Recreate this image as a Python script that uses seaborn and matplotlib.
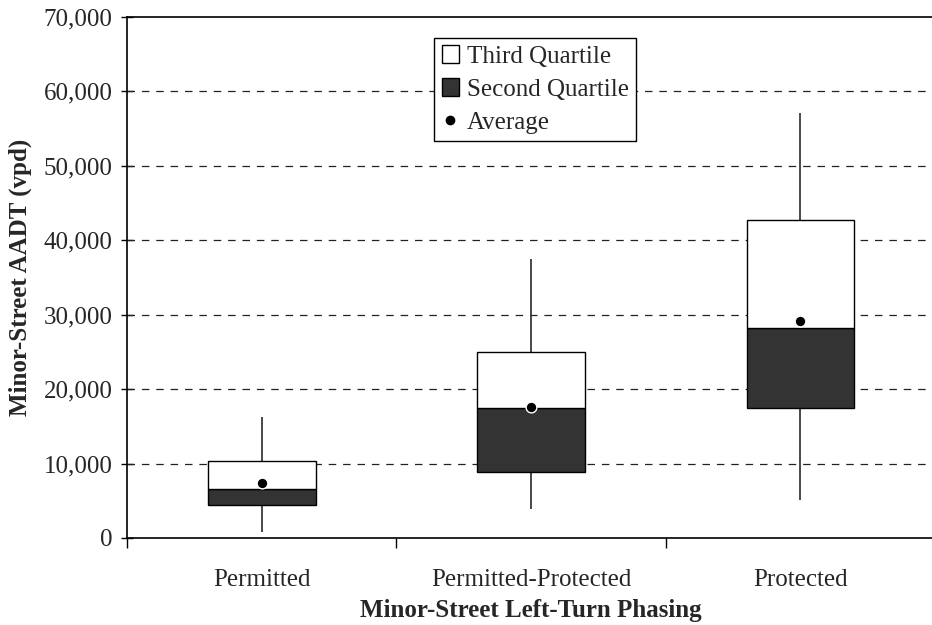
import matplotlib
matplotlib.use("Agg")
import matplotlib.pyplot as plt
from matplotlib.patches import Patch
from matplotlib.lines import Line2D
from matplotlib.ticker import FuncFormatter, FixedLocator
import seaborn as sns
import pandas as pd

# Minor-street AADT (vpd) by left-turn phasing
categories = ["Permitted", "Permitted-Protected", "Protected"]
whisker_low = [800, 3900, 5100]
first_quartile = [4400, 8900, 17500]
median = [6600, 17500, 28200]
third_quartile = [10400, 25000, 42700]
whisker_high = [16300, 37500, 57100]
average = [7400, 17600, 29100]

sns.set_theme(style="white")
plt.rcParams["font.family"] = ["Liberation Serif", "DejaVu Serif"]
plt.rcParams["font.size"] = 18

fig = plt.figure(figsize=(9.32, 6.25), dpi=100)
ax = fig.add_axes([0.1363, 0.1392, 0.8670, 0.8341])

pos = list(range(len(categories)))
width = 0.40
dark = "#333333"

# Whiskers behind the boxes
ax.vlines(pos, whisker_low, whisker_high, color="#3a3a3a", linewidth=1.3, zorder=2)

# Second quartile (Q1 -> median) and third quartile (median -> Q3)
q2_h = [m - q for m, q in zip(median, first_quartile)]
q3_h = [q - m for q, m in zip(third_quartile, median)]
ax.bar(pos, q2_h, bottom=first_quartile, width=width, color=dark,
       edgecolor="black", linewidth=1.0, zorder=3)
ax.bar(pos, q3_h, bottom=median, width=width, color="white",
       edgecolor="black", linewidth=1.0, zorder=3)

# Averages
df = pd.DataFrame({"x": pos, "avg": average})
sns.scatterplot(data=df, x="x", y="avg", ax=ax, color="black", s=60,
                edgecolor="white", linewidth=1.0, zorder=5, legend=False)

# Axes, grid and ticks
ax.set_xlim(-0.5, 2.5)
ax.set_ylim(0, 70000)
ax.set_yticks(range(0, 70001, 10000))
ax.yaxis.set_major_formatter(FuncFormatter(lambda v, _: f"{int(v):,}"))
for y in range(10000, 70000, 10000):
    ax.axhline(y, color="#222222", linewidth=0.9, linestyle=(0, (6, 5.5)), zorder=1)

ax.set_xticks(pos)
ax.set_xticklabels(categories)
ax.xaxis.set_minor_locator(FixedLocator([-0.5, 0.5, 1.5, 2.5]))
ax.tick_params(axis="x", which="major", length=0, pad=22, labelsize=18)
ax.tick_params(axis="x", which="minor", length=7, width=1.0, direction="out",
               color="black", bottom=True)
ax.tick_params(axis="y", which="major", length=9, width=1.0, direction="inout",
               color="black", left=True, pad=6, labelsize=18)

for side in ["left", "bottom", "top"]:
    ax.spines[side].set_color("black")
    ax.spines[side].set_linewidth(1.2)
ax.spines["right"].set_visible(False)

ax.set_xlabel("Minor-Street Left-Turn Phasing", fontsize=18, fontweight="bold", labelpad=6)
ax.set_ylabel("Minor-Street AADT (vpd)", fontsize=18, fontweight="bold", labelpad=8)

handles = [
    Patch(facecolor="white", edgecolor="black", linewidth=1.0, label="Third Quartile"),
    Patch(facecolor=dark, edgecolor="black", linewidth=1.0, label="Second Quartile"),
    Line2D([], [], marker="o", linestyle="none", color="black", markersize=6,
           label="Average"),
]
leg = ax.legend(handles=handles, loc="upper center", bbox_to_anchor=(0.505, 0.96),
                fancybox=False, framealpha=1, edgecolor="black", fontsize=18,
                handlelength=0.7, handleheight=0.7, handletextpad=0.3,
                borderpad=0.3, labelspacing=0.42, borderaxespad=0)
leg.get_frame().set_linewidth(1.0)
leg.set_zorder(10)

fig.savefig("out.png", dpi=100)
